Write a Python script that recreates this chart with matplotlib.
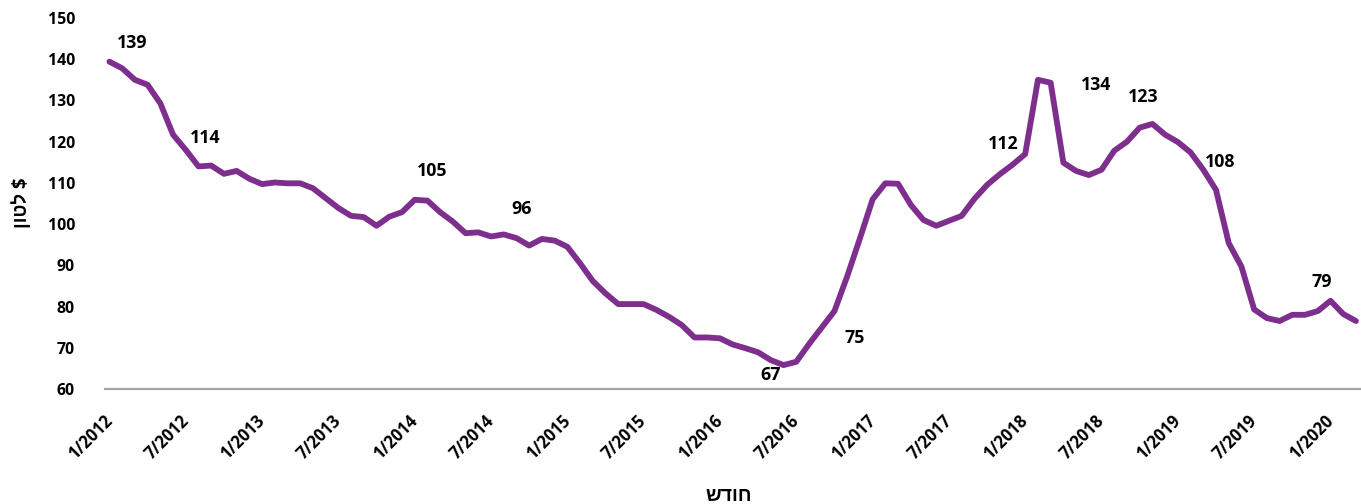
import matplotlib
matplotlib.use("Agg")
import matplotlib.pyplot as plt

# Monthly price, 1/2012 .. 3/2020 ($ per ton)
prices = [
    139.4, 137.8, 135.0, 133.8, 129.3, 121.7, 118.0, 114.0, 114.2, 112.2,
    112.9, 111.0, 109.7, 110.1, 109.9, 109.9, 108.7, 106.3, 103.9, 102.0,
    101.7, 99.6, 101.8, 102.9, 105.9, 105.7, 102.9, 100.6, 97.8, 98.0,
    97.0, 97.5, 96.6, 94.8, 96.4, 96.0, 94.5, 90.5, 86.2, 83.2,
    80.6, 80.6, 80.6, 79.2, 77.5, 75.5, 72.5, 72.5, 72.3, 70.8,
    69.9, 68.9, 67.0, 65.8, 66.6, 70.9, 74.9, 78.9, 87.3, 96.5,
    106.0, 109.9, 109.8, 104.7, 101.0, 99.6, 100.8, 102.0, 106.1, 109.5,
    112.1, 114.4, 117.0, 135.0, 134.3, 114.9, 112.9, 111.9, 113.2, 117.8,
    120.0, 123.4, 124.3, 121.7, 119.9, 117.4, 113.2, 108.3, 95.4, 89.7,
    79.3, 77.2, 76.5, 78.0, 78.0, 78.9, 81.4, 78.2, 76.5,
]
months = list(range(len(prices)))

tick_months = list(range(0, 97, 6))
tick_labels = ["1/2012", "7/2012", "1/2013", "7/2013", "1/2014", "7/2014",
               "1/2015", "7/2015", "1/2016", "7/2016", "1/2017", "7/2017",
               "1/2018", "7/2018", "1/2019", "7/2019", "1/2020"]

# data labels: text, anchor month, anchor value
label_texts = ["139", "114", "105", "96", "67", "75", "112", "134", "123", "108", "79"]
label_months = [1.8, 7.5, 25.4, 32.4, 52.0, 58.6, 70.3, 77.6, 81.3, 87.3, 95.3]
label_values = [144.0, 121.0, 112.8, 103.7, 63.3, 72.4, 119.5, 133.8, 130.9, 115.1, 86.0]

y_label = "ןוטל $"
x_label = "שדוח"

W, H = 1361, 504
fig = plt.figure(figsize=(W / 100, H / 100), dpi=100)
ax = fig.add_axes([105 / W, 1 - 389 / H, 1 - 105 / W, (389 - 18) / H])

ax.plot(months, prices, color="#7E2F8E", lw=4.2, solid_joinstyle="round",
        solid_capstyle="round")

ax.set_ylim(60, 150)
ax.set_xlim(-0.35, 98.4)
ax.set_yticks(range(60, 151, 10))
ax.set_xticks(tick_months)

fam = ["Open Sans", "Liberation Sans", "DejaVu Sans"]
ax.set_yticklabels([str(v) for v in range(60, 151, 10)], family=fam,
                   weight="bold", size=11.4)
ax.set_xticklabels(tick_labels, rotation=45, ha="right", va="center",
                   rotation_mode="anchor", family=fam, weight="bold", size=12)
ax.tick_params(axis="both", length=0)
ax.tick_params(axis="y", pad=21.6)
ax.tick_params(axis="x", pad=21)

for s in ["top", "right", "left"]:
    ax.spines[s].set_visible(False)
ax.spines["bottom"].set_color("#A6A6A6")
ax.spines["bottom"].set_linewidth(1.6)

for t, m, v in zip(label_texts, label_months, label_values):
    ax.text(m, v, t, ha="center", va="center", color="black", family=fam,
            weight="bold", size=12.8)

fig.text(22 / W, 1 - 203 / H, y_label, rotation=90, ha="center", va="center",
         family=fam, weight="bold", size=13.5)
fig.text(729 / W, 1 - 496 / H, x_label, ha="center", va="center",
         family=fam, weight="bold", size=14)

fig.savefig("out.png", dpi=100)
